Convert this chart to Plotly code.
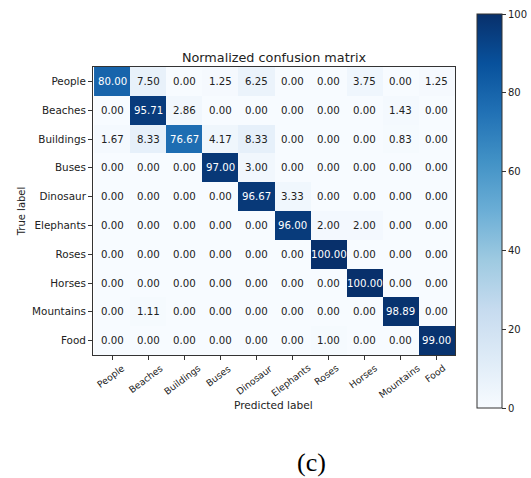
import plotly.graph_objects as go

classes = ["People", "Beaches", "Buildings", "Buses", "Dinosaur", "Elephants",
           "Roses", "Horses", "Mountains", "Food"]

row_people = [80.00, 7.50, 0.00, 1.25, 6.25, 0.00, 0.00, 3.75, 0.00, 1.25]
row_beaches = [0.00, 95.71, 2.86, 0.00, 0.00, 0.00, 0.00, 0.00, 1.43, 0.00]
row_buildings = [1.67, 8.33, 76.67, 4.17, 8.33, 0.00, 0.00, 0.00, 0.83, 0.00]
row_buses = [0.00, 0.00, 0.00, 97.00, 3.00, 0.00, 0.00, 0.00, 0.00, 0.00]
row_dinosaur = [0.00, 0.00, 0.00, 0.00, 96.67, 3.33, 0.00, 0.00, 0.00, 0.00]
row_elephants = [0.00, 0.00, 0.00, 0.00, 0.00, 96.00, 2.00, 2.00, 0.00, 0.00]
row_roses = [0.00, 0.00, 0.00, 0.00, 0.00, 0.00, 100.00, 0.00, 0.00, 0.00]
row_horses = [0.00, 0.00, 0.00, 0.00, 0.00, 0.00, 0.00, 100.00, 0.00, 0.00]
row_mountains = [0.00, 1.11, 0.00, 0.00, 0.00, 0.00, 0.00, 0.00, 98.89, 0.00]
row_food = [0.00, 0.00, 0.00, 0.00, 0.00, 0.00, 1.00, 0.00, 0.00, 99.00]

matrix = [row_people, row_beaches, row_buildings, row_buses, row_dinosaur,
          row_elephants, row_roses, row_horses, row_mountains, row_food]

cbar_ticks = [0, 20, 40, 60, 80, 100]

blues = [[0.0, "#f7fbff"], [0.125, "#deebf7"], [0.25, "#c6dbef"], [0.375, "#9ecae1"],
         [0.5, "#6baed6"], [0.625, "#4292c6"], [0.75, "#2171b5"], [0.875, "#08519c"],
         [1.0, "#08306b"]]

FONT = "DejaVu Sans"
TXT = "#222"
L, R, T, B = 93, 76, 67, 123
W = 531 - L - R
H = 478 - T - B

fig = go.Figure()
fig.add_trace(go.Heatmap(
    z=matrix, x=classes, y=classes, zmin=0, zmax=100, colorscale=blues,
    hoverinfo="skip",
    colorbar=dict(
        thickness=25, thicknessmode="pixels", len=394, lenmode="pixels",
        x=(477 - L) / W, xanchor="left", xpad=0,
        y=(478 - B - 408) / H, yanchor="bottom", ypad=0,
        outlinecolor="#333", outlinewidth=1,
        tickvals=cbar_ticks, ticktext=[str(t) for t in cbar_ticks],
        ticks="outside", ticklen=4, tickcolor="#333",
        tickfont=dict(family=FONT, size=10, color=TXT),
    ),
))

annotations = []
for i, row in enumerate(matrix):
    for j, v in enumerate(row):
        annotations.append(dict(
            x=classes[j], y=classes[i], text=f"{v:.2f}", showarrow=False,
            xref="x", yref="y",
            font=dict(family=FONT, size=10.2, color="white" if v > 50 else TXT),
        ))

# x tick labels, rotated and centred under each tick (matplotlib style)
for c in classes:
    annotations.append(dict(
        x=c, y=0, xref="x", yref="paper", text=c, showarrow=False,
        textangle=-37, xanchor="center", yanchor="top", yshift=-6, xshift=-2,
        borderpad=0, font=dict(family=FONT, size=9.3, color=TXT),
    ))

annotations.append(dict(text="Predicted label", x=(273 - L) / W, y=(478 - B - 405) / H,
                        xref="paper", yref="paper", xanchor="center", yanchor="middle",
                        showarrow=False, font=dict(family=FONT, size=10.6, color=TXT)))

annotations.append(dict(text="(c)", x=(311 - L) / W, y=(478 - B - 462) / H,
                        xref="paper", yref="paper", xanchor="center", yanchor="middle",
                        showarrow=False, borderpad=0,
                        font=dict(family="Liberation Serif", size=26, color="black")))

fig.update_layout(
    width=531, height=478,
    margin=dict(l=L, r=R, t=T, b=B, autoexpand=False),
    paper_bgcolor="white", plot_bgcolor="white",
    title=dict(text="Normalized confusion matrix", x=274 / 531, xanchor="center",
               y=1 - 58 / 478, yanchor="middle",
               font=dict(family=FONT, size=12.8, color=TXT)),
    annotations=annotations,
    xaxis=dict(
        showticklabels=False, ticks="outside", ticklen=4, tickcolor="#333",
        showline=True, linecolor="#333", linewidth=1, mirror=True,
        showgrid=False, zeroline=False,
    ),
    yaxis=dict(
        autorange="reversed", ticks="outside", ticklen=4, tickcolor="#333",
        tickfont=dict(family=FONT, size=10.4, color=TXT),
        showline=True, linecolor="#333", linewidth=1, mirror=True,
        showgrid=False, zeroline=False,
        title=dict(text="True label", font=dict(family=FONT, size=10, color=TXT), standoff=4),
    ),
)

fig.write_html("out.html", config={"displayModeBar": False},
               post_script="document.body.style.margin='0';")
